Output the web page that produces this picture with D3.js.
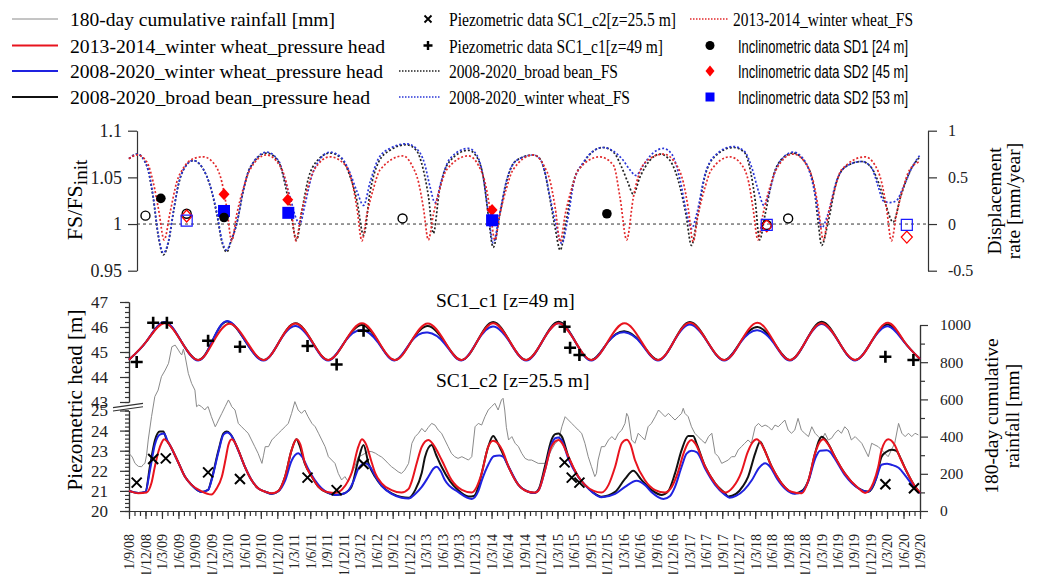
<!DOCTYPE html>
<html>
<head>
<meta charset="utf-8">
<script src="https://cdn.jsdelivr.net/npm/d3@7"></script>
<style>
    body { margin: 0; background: #fff; }
    svg { display: block; }
</style>
</head>
<body>
<svg id="chart" width="1057" height="574"></svg>
<script>
// x values are months counted from 1 Sep 2008

const tickLabels = ['1/9/08','1/12/08','1/3/09','1/6/09','1/9/09','1/12/09','1/3/10','1/6/10','1/9/10','1/12/10',
    '1/3/11','1/6/11','1/9/11','1/12/11','1/3/12','1/6/12','1/9/12','1/12/12','1/3/13','1/6/13','1/9/13','1/12/13',
    '1/3/14','1/6/14','1/9/14','1/12/14','1/3/15','1/6/15','1/9/15','1/12/15','1/3/16','1/6/16','1/9/16','1/12/16',
    '1/3/17','1/6/17','1/9/17','1/12/17','1/3/18','1/6/18','1/9/18','1/12/18','1/3/19','1/6/19','1/9/19','1/12/19',
    '1/3/20','1/6/20','1/9/20'];

const fsTicks = [0.95, 1, 1.05, 1.1];
const rateTicks = [-0.5, 0, 0.5, 1];
const c1Ticks = [43, 44, 45, 46, 47];
const c2Ticks = [20, 21, 22, 23, 24, 25];
const rainTicks = [0, 200, 400, 600, 800, 1000];

// 180-day cumulative rainfall [mm]
const rainfall = [[0,310],[0.6,290],[1.1,256],[1.7,240],[2.3,238],[2.6,250],[2.9,256],[3.2,300],[3.5,382],[4.1,507],
    [4.7,615],[5.3,650],[5.9,722],[6.6,758],[7.2,794],[7.8,883],[8.4,892],[9.0,865],[9.3,850],[9.6,839],[9.9,870],
    [10.2,835],[10.8,740],[11.4,686],[12.0,650],[12.3,561],[12.7,570],[13.2,561],[13.8,543],[14.1,555],[14.4,561],
    [15.0,507],[15.7,453],[16.0,470],[16.3,489],[16.9,525],[17.5,561],[18.1,597],[18.5,575],[18.7,561],[19.3,543],
    [19.9,471],[20.5,453],[21.1,435],[21.7,418],[22.3,382],[22.9,346],[23.5,310],[24.2,256],[24.5,300],[24.8,346],
    [25.4,346],[26.0,382],[26.6,400],[27.2,418],[27.8,435],[28.4,453],[29.0,471],[29.6,525],[30.2,588],[30.8,543],
    [31.4,525],[32.0,543],[32.6,507],[33.3,471],[33.9,453],[34.5,418],[35.1,382],[35.7,346],[36.3,292],[36.9,274],
    [37.5,256],[38.1,202],[38.7,167],[39.3,185],[39.9,158],[40.5,202],[41.1,238],[41.75,292],[42.4,300],[43.0,310],
    [43.6,320],[44.2,319],[44.9,310],[45.4,300],[46.0,290],[46.6,274],[47.2,255],[47.8,238],[48.4,225],[49.0,211],
    [49.6,202],[50.2,220],[50.9,256],[51.5,364],[52.1,400],[52.7,418],[53.3,444],[53.9,425],[54.5,450],[55.1,471],
    [55.7,462],[56.3,435],[56.9,418],[57.5,382],[58.1,346],[58.7,310],[59.3,292],[59.9,283],[60.6,292],[61.2,283],
    [61.8,274],[62.4,292],[63.0,453],[63.6,471],[64.2,462],[64.8,507],[65.4,543],[66.0,561],[66.6,579],[67.2,543],
    [67.8,597],[68.1,606],[68.4,543],[68.7,450],[69.1,382],[69.7,400],[70.3,364],[70.9,346],[71.5,310],[72.1,283],
    [72.7,274],[73.3,274],[74.5,256],[75.7,256],[76.3,290],[76.9,328],[77.5,360],[78.2,382],[78.8,453],[79.4,507],
    [80.0,489],[80.6,471],[81.2,453],[81.8,435],[82.4,418],[83.0,364],[83.6,292],[84.2,238],[84.8,185],[85.1,202],
    [85.4,274],[86.0,346],[86.6,346],[87.3,382],[87.9,400],[88.5,382],[89.1,418],[89.7,435],[90.3,471],[90.6,525],
    [90.9,507],[91.5,382],[92.1,364],[92.7,418],[93.3,400],[93.9,382],[94.5,453],[95.1,471],[95.8,507],[96.4,543],
    [97.0,525],[97.6,507],[98.2,525],[98.8,507],[99.4,489],[100.0,507],[100.6,525],[100.9,552],[101.2,525],[101.8,507],
    [102.4,453],[103.0,418],[103.6,400],[104.2,382],[104.9,364],[105.5,400],[106.1,418],[106.7,310],[107.3,292],
    [107.9,256],[108.5,265],[109.1,274],[109.7,292],[110.3,292],[110.9,328],[111.5,346],[112.1,364],[112.7,382],
    [113.3,364],[114.0,453],[114.6,471],[115.2,453],[115.8,462],[116.4,453],[117.0,435],[117.6,462],[118.2,453],
    [118.8,471],[119.4,489],[120.0,435],[120.6,418],[121.2,435],[121.8,498],[122.4,435],[123.0,418],[123.7,400],
    [124.3,453],[124.9,418],[125.5,400],[126.1,382],[126.7,418],[127.3,382],[127.9,391],[128.5,418],[129.1,435],
    [129.7,418],[130.3,453],[130.9,435],[131.5,382],[132.2,400],[132.8,382],[133.4,364],[134.0,328],[134.6,292],
    [135.2,364],[135.8,355],[136.4,346],[137.0,328],[137.6,310],[138.2,292],[138.8,328],[139.4,364],[140.1,471],
    [140.7,418],[141.3,400],[141.9,418],[142.5,400],[143.1,418],[143.7,409]];

// SC1_c1 [z=49 m] pressure head [m]
const c1WW1314 = [[0,44.69],[3.2,45.43],[6.4,46.15],[9.5,45.43],[12.6,44.68],[15.4,45.43],[18.3,46.13],[21.4,45.43],
    [24.5,44.68],[27.4,45.43],[30.3,46.14],[33.3,45.43],[36.3,44.68],[39.35,45.43],[42.4,46.15],[45.4,45.43],[48.4,44.68],
    [51.4,45.43],[54.4,46.14],[57.45,45.43],[60.5,44.68],[63.4,45.43],[66.3,46.15],[69.3,45.43],[72.3,44.68],[75.25,45.43],
    [78.2,46.15],[81.2,45.43],[84.2,44.68],[87.2,45.43],[90.2,46.15],[93.25,45.43],[96.3,44.68],[99.2,45.43],[102.1,46.17],
    [105.25,45.43],[108.4,44.68],[111.4,45.43],[114.4,46.17],[117.35,45.43],[120.3,44.68],[123.2,45.43],[126.1,46.15],
    [129.15,45.43],[132.2,44.68],[135.2,45.43],[138.2,46.17],[141.1,45.43],[144,44.72]];
const c1WW0820 = [[0,44.69],[3.2,45.43],[6.4,46.2],[9.5,45.43],[12.6,44.66],[15.2,45.45],[17.9,46.24],[21.2,45.43],
    [24.5,44.66],[27.4,45.43],[30.3,46.04],[33.3,45.4],[36.3,44.66],[39.35,45.43],[42.4,45.88],[45.4,45.36],[48.4,44.66],
    [51.4,45.43],[54.4,45.78],[57.45,45.34],[60.5,44.66],[63.4,45.43],[66.3,46.02],[69.3,45.4],[72.3,44.66],[75.25,45.43],
    [78.2,46.15],[81.2,45.43],[84.2,44.66],[87.2,45.4],[90.2,45.79],[93.25,45.34],[96.3,44.66],[99.2,45.43],[102.1,46.1],
    [105.25,45.42],[108.4,44.66],[111.4,45.4],[114.4,45.87],[117.35,45.36],[120.3,44.66],[123.2,45.43],[126.1,46.12],
    [129.15,45.42],[132.2,44.66],[135.2,45.43],[138.2,46.03],[141.1,45.4],[144,44.72]];
const c1BB0820 = [[0,44.69],[3.2,45.43],[6.4,46.18],[9.5,45.43],[12.6,44.68],[15.2,45.45],[17.9,46.22],[21.2,45.43],
    [24.5,44.68],[27.4,45.43],[30.3,46.15],[33.3,45.43],[36.3,44.68],[39.35,45.43],[42.4,46.08],[45.4,45.4],[48.4,44.68],
    [51.4,45.43],[54.4,46.04],[57.45,45.4],[60.5,44.68],[63.4,45.43],[66.3,46.2],[69.3,45.43],[72.3,44.68],[75.25,45.43],
    [78.2,46.21],[81.2,45.43],[84.2,44.68],[87.2,45.4],[90.2,45.83],[93.25,45.36],[96.3,44.68],[99.2,45.43],[102.1,46.2],
    [105.25,45.43],[108.4,44.68],[111.4,45.43],[114.4,46.0],[117.35,45.4],[120.3,44.68],[123.2,45.43],[126.1,46.21],
    [129.15,45.43],[132.2,44.68],[135.2,45.43],[138.2,46.1],[141.1,45.42],[144,44.72]];

// SC1_c2 [z=25.5 m] pressure head [m]
const c2WW1314 = [[0,21.0],[1.7,20.88],[3.2,20.92],[4.1,21.4],[4.7,22.2],[5.4,23.0],[5.9,23.37],[6.4,23.57],[7.0,23.45],
    [7.6,23.2],[9.0,22.4],[10.2,21.7],[11.4,21.3],[13.2,20.98],[15.0,20.82],[15.9,21.1],[16.9,21.7],[17.6,22.6],
    [18.1,23.3],[18.7,23.57],[19.3,23.4],[19.9,23.03],[21.1,22.2],[22.3,21.54],[23.5,21.13],[24.8,20.96],[26.0,20.88],
    [27.2,21.0],[28.4,21.7],[29.6,23.03],[30.5,23.57],[31.2,23.3],[32.0,22.4],[33.3,21.7],[34.5,21.2],[36.3,20.93],
    [37.5,20.9],[38.7,21.05],[39.9,21.5],[40.5,21.87],[41.75,23.2],[42.4,23.57],[43.1,23.35],[44.2,22.4],[44.8,21.9],
    [46.0,21.38],[47.8,21.04],[49.6,20.92],[50.9,21.1],[51.5,21.5],[52.4,22.4],[53.3,23.2],[54.5,23.53],[55.4,23.3],
    [56.9,22.55],[58.7,21.55],[60.6,21.05],[62.4,20.92],[63.3,21.2],[64.2,21.87],[65.4,23.2],[66.3,23.5],[67.2,23.35],
    [68.0,23.0],[69.1,22.2],[70.9,21.3],[72.7,20.96],[73.8,20.92],[74.5,21.0],[75.7,22.0],[76.9,23.2],[78.2,23.53],
    [78.9,23.35],[80.0,22.7],[81.8,21.7],[83.0,21.3],[84.6,21.0],[86.0,20.92],[87.3,21.3],[88.5,22.2],[89.7,23.37],
    [90.6,23.55],[91.3,23.3],[92.1,22.54],[93.9,21.54],[95.8,21.04],[97.6,20.92],[98.8,21.2],[99.9,21.9],[101.0,22.9],
    [101.8,23.4],[102.4,23.53],[103.1,23.35],[104.9,22.2],[106.7,21.38],[108.5,20.92],[110.0,21.2],[111.5,21.95],
    [112.6,22.9],[113.4,23.37],[114.3,23.57],[115.1,23.35],[117.0,22.2],[118.8,21.38],[120.6,20.96],[122.5,20.88],
    [123.7,21.54],[124.9,22.87],[125.8,23.45],[126.4,23.57],[127.2,23.35],[128.5,22.7],[130.3,21.87],[132.8,21.13],
    [134.0,20.9],[135.5,21.4],[136.4,22.2],[137.0,23.03],[138.2,23.57],[139.4,23.28],[140.3,22.7],[141.5,22.0],
    [143,21.25],[144,20.9]];
const c2WW0820 = [[0,21.0],[1.7,20.9],[3.0,20.95],[3.8,22.0],[4.7,23.3],[5.6,23.8],[6.4,23.86],[7.0,23.5],[7.5,23.25],
    [9.0,22.4],[10.2,21.7],[11.4,21.3],[13.2,20.95],[14.4,21.05],[15.0,21.5],[16.3,22.95],[17.2,23.8],[17.9,23.9],
    [18.5,23.8],[19.9,23.0],[21.1,22.2],[22.3,21.54],[23.5,21.13],[24.8,20.96],[26.0,20.86],[27.2,20.98],[28.4,21.5],
    [29.6,22.5],[30.8,22.87],[31.5,22.7],[32.6,22.1],[33.8,21.55],[35.0,21.15],[36.3,20.9],[37.5,20.8],[38.7,20.83],
    [39.9,21.0],[40.9,21.5],[41.75,22.1],[43.0,22.37],[43.9,22.2],[44.8,21.75],[46.0,21.25],[47.8,20.85],[49.6,20.66],
    [50.9,20.62],[52.1,20.85],[53.3,21.2],[54.5,21.7],[55.4,22.1],[56.0,22.2],[56.7,22.0],[57.5,21.54],[59.9,20.95],
    [62.4,20.6],[63.6,21.0],[64.2,21.5],[65.4,22.3],[66.4,22.72],[67.4,22.76],[68.1,22.7],[69.1,22.2],[70.9,21.3],
    [72.7,20.96],[73.8,20.9],[74.6,21.05],[75.7,22.0],[76.9,23.3],[77.6,23.62],[78.2,23.66],[78.8,23.5],[80.0,22.6],
    [81.8,21.7],[83.0,21.3],[84.5,20.9],[86.0,20.68],[88.5,20.85],[90.3,21.2],[92.4,21.5],[93.9,21.3],[95.1,20.95],
    [97.3,20.6],[98.5,20.75],[99.4,21.2],[100.6,22.2],[101.5,22.85],[102.4,23.0],[103.4,22.92],[104.9,22.1],
    [106.7,21.3],[108.5,20.8],[109.3,20.66],[110.5,20.75],[112.0,21.05],[113.4,21.54],[114.7,22.15],[115.8,22.37],
    [116.7,22.2],[118.0,21.6],[119.5,21.1],[121.2,20.86],[122.5,20.95],[123.7,21.5],[124.9,22.6],[125.8,23.0],
    [127.0,23.02],[127.6,22.95],[128.5,22.6],[130.3,21.8],[132.8,21.13],[134.6,20.96],[136.0,21.6],[137.0,22.3],
    [138.0,22.35],[138.8,22.3],[140.1,22.15],[141.5,21.7],[143,21.15],[144,20.88]];
const c2BB0820 = [[0,21.0],[1.7,20.9],[3.0,20.95],[3.8,22.2],[4.7,23.5],[5.6,23.95],[6.25,23.95],[6.9,23.5],[7.5,23.25],
    [9.0,22.4],[10.2,21.7],[11.4,21.3],[13.2,20.95],[14.4,21.05],[15.0,21.54],[16.3,23.03],[17.2,23.86],[17.8,23.95],
    [18.4,23.85],[19.9,23.03],[21.1,22.2],[22.3,21.54],[23.5,21.13],[24.8,20.96],[26.0,20.86],[27.2,21.0],[28.4,21.7],
    [29.6,23.03],[30.5,23.57],[31.0,23.3],[32.0,22.37],[33.3,21.7],[34.5,21.2],[36.3,20.9],[37.5,20.8],[38.7,20.83],
    [39.9,21.0],[40.5,21.2],[41.75,22.54],[42.7,23.28],[43.6,22.37],[44.8,21.7],[46.0,21.25],[47.8,20.88],[49.6,20.7],
    [50.9,20.66],[52.1,21.04],[53.3,21.9],[53.9,22.7],[55.1,23.28],[55.9,22.8],[56.9,22.2],[58.4,21.5],[59.9,21.04],
    [61.8,20.72],[62.8,20.75],[63.6,21.2],[64.2,21.87],[65.4,23.2],[66.3,23.73],[67.0,23.45],[67.8,23.0],[69.1,22.2],
    [70.9,21.3],[72.7,20.96],[73.8,20.9],[74.6,21.1],[75.7,22.2],[76.9,23.53],[77.6,23.82],[78.2,23.86],[78.8,23.7],
    [80.0,22.7],[81.8,21.7],[83.0,21.3],[84.5,20.92],[86.0,20.71],[88.5,20.95],[90.3,21.6],[91.8,22.0],[93.3,21.55],
    [95.1,21.05],[97.0,20.8],[98.2,21.0],[99.4,21.87],[100.6,23.03],[101.8,23.73],[102.7,23.73],[103.4,23.3],
    [104.9,22.2],[106.7,21.38],[108.5,20.88],[109.1,20.72],[110.5,20.85],[111.8,21.25],[112.7,21.7],[114.0,22.87],
    [114.9,23.45],[115.6,23.1],[117.0,22.2],[118.8,21.38],[121.2,20.88],[122.5,21.0],[123.7,21.54],[124.9,22.87],
    [125.6,23.5],[126.1,23.7],[126.8,23.55],[127.5,23.25],[128.5,22.7],[130.3,21.87],[132.8,21.13],[134.6,20.96],
    [136.0,21.6],[137.0,22.7],[137.9,22.95],[138.8,23.05],[139.7,23.0],[140.5,22.6],[141.5,22.0],[143,21.25],[144,20.9]];

// FS / FS_init
const fsWW1314 = [[0,1.070],[1.5,1.074],[3.2,1.067],[4.4,1.045],[5.4,1.015],[6.4,0.983],[7.5,1.013],[8.7,1.045],[9.9,1.06],
    [11.7,1.07],[13.5,1.072],[15.7,1.063],[16.9,1.045],[17.8,1.017],[18.7,0.982],[19.6,1.01],[20.8,1.038],[22,1.058],
    [25,1.074],[27.4,1.063],[28.6,1.045],[29.5,1.017],[30.4,0.982],[31.3,1.01],[32.5,1.038],[33.7,1.058],[36.6,1.072],
    [39.4,1.063],[40.6,1.045],[41.5,1.017],[42.4,0.982],[43.3,1.01],[44.5,1.038],[45.7,1.058],[49.9,1.073],[51.5,1.063],
    [52.7,1.045],[53.6,1.017],[54.5,0.983],[55.4,1.01],[56.6,1.038],[57.8,1.058],[61.8,1.073],[63.6,1.063],[64.8,1.045],
    [65.7,1.017],[66.6,0.983],[67.5,1.01],[68.7,1.038],[69.9,1.058],[73.6,1.074],[75.5,1.063],[76.7,1.045],[77.6,1.017],
    [78.5,0.981],[79.4,1.01],[80.6,1.038],[81.8,1.058],[85.7,1.072],[88.2,1.063],[89.4,1.028],[90.6,0.983],[91.8,1.028],
    [93,1.056],[94.8,1.07],[97.3,1.075],[99.7,1.063],[100.9,1.045],[101.8,1.017],[102.7,0.981],[103.6,1.01],[104.8,1.038],
    [106,1.058],[109.4,1.072],[111.6,1.063],[112.8,1.045],[113.6,1.017],[114.5,0.983],[115.4,1.01],[116.6,1.038],
    [117.8,1.058],[120.9,1.075],[123.4,1.063],[124.6,1.045],[125.5,1.017],[126.4,0.983],[127.3,1.01],[128.5,1.038],
    [129.7,1.058],[134,1.072],[135.8,1.063],[137,1.045],[137.9,1.017],[138.8,0.982],[139.7,1.01],[140.9,1.038],
    [142.1,1.058],[144,1.067]];
const fsWW0820 = [[0,1.070],[1.5,1.075],[3.2,1.063],[4.4,1.03],[5.3,0.99],[6.25,0.969],[7.2,0.982],[8.1,1.014],[9,1.043],
    [9.9,1.058],[11.7,1.068],[14.1,1.052],[16,1.012],[16.9,0.983],[17.8,0.972],[18.6,0.983],[19.6,1.0],[20.8,1.036],
    [22,1.06],[25.1,1.077],[27.3,1.067],[28.5,1.045],[29.5,1.025],[30.3,1.008],[31.1,1.0],[32,1.02],[33.2,1.05],
    [34.6,1.068],[36.6,1.077],[38.7,1.071],[40,1.058],[41.5,1.035],[42.7,1.02],[43.9,1.045],[45.4,1.07],[47.5,1.081],
    [50.5,1.086],[52.3,1.081],[53.8,1.065],[54.8,1.04],[55.7,1.023],[56.8,1.045],[58.4,1.07],[61.8,1.081],[63.3,1.074],
    [64.5,1.05],[65.4,1.012],[66.3,0.98],[67.5,1.012],[68.7,1.046],[70.5,1.068],[73.6,1.074],[74.8,1.07],[75.6,1.058],
    [76.6,1.03],[77.7,1.0],[78.8,0.979],[79.8,1.003],[81,1.045],[82.7,1.066],[84.5,1.078],[86.3,1.082],[88.2,1.078],
    [90,1.068],[91.2,1.058],[92.3,1.052],[93.5,1.062],[95.2,1.075],[97.3,1.081],[98.8,1.075],[100.3,1.048],[101.4,1.015],
    [102.4,0.995],[103.4,1.012],[104.8,1.052],[106.6,1.073],[110,1.083],[112,1.078],[113.4,1.06],[114.6,1.035],
    [115.6,1.02],[116.6,1.035],[117.6,1.056],[118.9,1.07],[120.9,1.077],[123.3,1.065],[124.8,1.035],[126.1,0.996],
    [127.2,1.01],[128.8,1.046],[130.6,1.062],[133.4,1.067],[135.2,1.06],[136.4,1.04],[137.3,1.025],[138.5,1.023],
    [139.7,1.025],[141,1.04],[142.5,1.06],[144,1.074]];
const fsBB0820 = [[0,1.070],[1.5,1.075],[3.2,1.063],[4.4,1.028],[5.3,0.988],[6.25,0.967],[7.2,0.981],[8.1,1.013],[9,1.042],
    [9.9,1.058],[11.7,1.068],[14.1,1.052],[16,1.01],[16.9,0.981],[17.8,0.970],[18.6,0.982],[19.6,1.0],[20.8,1.035],
    [22,1.06],[25.1,1.076],[27.3,1.066],[28.5,1.04],[29.5,1.01],[30.5,0.983],[31.5,1.015],[32.7,1.05],[34,1.066],
    [36.6,1.076],[38.7,1.07],[40,1.055],[41.5,1.025],[42.7,0.988],[43.9,1.035],[45.4,1.066],[47.5,1.079],[50.5,1.085],
    [52.3,1.079],[53.5,1.06],[54.5,1.03],[55.4,0.99],[56.5,1.035],[58.2,1.066],[61.8,1.079],[63.3,1.072],[64.5,1.05],
    [65.4,1.01],[66.3,0.975],[67.5,1.01],[68.7,1.045],[70.5,1.068],[73.6,1.074],[74.8,1.07],[75.6,1.058],[76.6,1.028],
    [77.6,0.995],[78.5,0.972],[79.5,1.0],[80.9,1.045],[82.7,1.065],[84.5,1.078],[86.3,1.082],[88.2,1.077],[89.6,1.062],
    [90.8,1.045],[91.8,1.032],[93,1.05],[94.8,1.068],[96.7,1.075],[98.5,1.068],[100.3,1.04],[101.4,1.01],[102.4,0.977],
    [103.4,1.005],[104.8,1.05],[106.6,1.072],[110,1.082],[112,1.077],[113.2,1.055],[114,1.025],[114.8,0.983],[115.8,1.01],
    [117.3,1.052],[118.9,1.07],[120.9,1.076],[123.3,1.064],[124.8,1.035],[125.5,1.0],[126.1,0.977],[127.2,1.0],
    [128.8,1.045],[130.6,1.062],[133.4,1.067],[135.2,1.06],[136.6,1.042],[137.8,1.02],[139.1,1.002],[140.5,1.03],
    [142.3,1.058],[144,1.072]];

// measured data
const piezoC1 = [[1.4,44.6],[4.4,46.17],[6.9,46.17],[14.4,45.45],[20.2,45.21],[32.5,45.24],[37.8,44.5],[42.7,45.85],
    [79.3,46.01],[80.3,45.17],[82.0,44.88],[137.7,44.81],[142.8,44.68]];
const piezoC2 = [[1.4,21.41],[4.4,22.59],[6.7,22.62],[14.4,21.92],[20.2,21.59],[32.5,21.66],[37.8,21.04],[42.7,22.34],
    [79.3,22.42],[80.6,21.66],[82.0,21.41],[137.7,21.33],[142.9,21.13]];
const sd1Filled = [[5.8,1.0275],[17.3,1.007],[87.0,1.011]];
const sd1Open = [[3.0,1.009],[10.5,1.011],[49.8,1.006],[116.1,0.999],[120.0,1.006]];
const sd45Filled = [[17.3,1.032],[28.9,1.026],[66.1,1.015]];
const sd45Open = [[10.5,1.0086],[116.1,0.998],[141.6,0.986]];
const sd53Filled = [[17.3,1.014],[29.0,1.012],[66.1,1.004]];
const sd53Open = [[10.5,1.0036],[116.1,0.999],[141.6,0.999]];

const legendHeads = ['180-day cumulative rainfall [mm]', '2013-2014_winter wheat_pressure head',
    '2008-2020_winter wheat_pressure head', '2008-2020_broad bean_pressure head'];
const legendMid = ['Piezometric data SC1_c2[z=25.5 m]', 'Piezometric data SC1_c1[z=49 m]',
    '2008-2020_broad bean_FS', '2008-2020_winter wheat_FS'];
const legendRight = ['2013-2014_winter wheat_FS', 'Inclinometric data SD1 [24 m]',
    'Inclinometric data SD2 [45 m]', 'Inclinometric data SD2 [53 m]'];


const SERIF = '"Liberation Serif", "Times New Roman", serif',
    SANS = '"Liberation Sans", Arial, sans-serif',
    RED = '#e8141e',
    BLUE = '#1f22e0',
    BLACK = '#111',
    GRAY = '#8a8a8a',
    AXIS = '#333';

const svg = d3.select('#chart')
    .attr('font-family', SERIF);

const x = d3.scaleLinear().domain([0, 144]).range([129, 920]);
const yFS = d3.scaleLinear().domain([0.95, 1.1]).range([270.7, 130.7]);
const yRate = d3.scaleLinear().domain([-0.5, 1]).range([270.7, 130.7]);
const yC1 = d3.scaleLinear().domain([43, 47]).range([402, 302]);
const yC2 = d3.scaleLinear().domain([20, 25]).range([511, 410.5]);
const yRain = d3.scaleLinear().domain([0, 1000]).range([511, 325]);

const PLUS = 'M-6,0H6M0,-6V6',
    TIMES = 'M-5,-5L5,5M-5,5L5,-5',
    DIAMOND = 'M0,-6L5.5,0L0,6L-5.5,0Z';

function plain(d) { return String(d); }

function styleAxis(g, size) {
    g.attr('font-family', SERIF).attr('font-size', size);
    g.selectAll('path, line').attr('stroke', AXIS).attr('stroke-width', 1.2);
    g.selectAll('text').attr('fill', '#222');
}

function drawLine(data, yScale, color, width, dash, curve) {
    svg.append('path')
        .datum(data)
        .attr('fill', 'none')
        .attr('stroke', color)
        .attr('stroke-width', width)
        .attr('stroke-dasharray', dash)
        .attr('stroke-linejoin', 'round')
        .attr('d', d3.line()
            .x(function(d) { return x(d[0]); })
            .y(function(d) { return yScale(d[1]); })
            .curve(curve));
}

function drawMarks(data, yScale, shape, attrs) {
    let sel = svg.append('g').selectAll('path')
        .data(data)
        .enter()
        .append('path')
        .attr('transform', function(d) { return 'translate(' + x(d[0]) + ',' + yScale(d[1]) + ')'; })
        .attr('d', shape);
    Object.keys(attrs).forEach(function(k) { sel.attr(k, attrs[k]); });
}

function circlePath(r) {
    return 'M' + r + ',0A' + r + ',' + r + ' 0 1,1 ' + (-r) + ',0A' + r + ',' + r + ' 0 1,1 ' + r + ',0Z';
}
function squarePath(h) {
    return 'M' + (-h) + ',' + (-h) + 'H' + h + 'V' + h + 'H' + (-h) + 'Z';
}

// ---------- top panel: FS ----------
svg.append('g')
    .attr('transform', 'translate(137,0)')
    .call(d3.axisLeft(yFS).tickValues(fsTicks).tickSize(9).tickPadding(6).tickSizeOuter(0).tickFormat(plain))
    .call(styleAxis, 18);

svg.append('g')
    .attr('transform', 'translate(928,0)')
    .call(d3.axisRight(yRate).tickValues(rateTicks).tickSize(9).tickPadding(11).tickSizeOuter(0).tickFormat(plain))
    .call(styleAxis, 16);

svg.append('line')
    .attr('x1', 137).attr('x2', 928)
    .attr('y1', yFS(1)).attr('y2', yFS(1))
    .attr('stroke', '#333')
    .attr('stroke-width', 1)
    .attr('stroke-dasharray', '3,3');

drawLine(fsBB0820, yFS, '#222', 1.7, '2,2', d3.curveMonotoneX);
drawLine(fsWW0820, yFS, '#2a36d8', 1.7, '2,2', d3.curveMonotoneX);
drawLine(fsWW1314, yFS, '#e2292b', 1.7, '2,2', d3.curveMonotoneX);

drawMarks(sd1Open, yFS, circlePath(4.5), { fill: 'none', stroke: '#000', 'stroke-width': 1.4 });
drawMarks(sd45Open, yFS, DIAMOND, { fill: 'none', stroke: '#f00', 'stroke-width': 1.3 });
drawMarks(sd53Open, yFS, squarePath(5.5), { fill: 'none', stroke: '#1a1aff', 'stroke-width': 1.2 });
drawMarks(sd45Filled, yFS, DIAMOND, { fill: '#f00' });
drawMarks(sd53Filled, yFS, squarePath(6), { fill: '#0000ff' });
drawMarks(sd1Filled, yFS, circlePath(4.8), { fill: '#000' });

// ---------- bottom panel: piezometric head & rainfall ----------
// upper part of the broken axis
svg.append('g')
    .attr('transform', 'translate(129,0)')
    .call(d3.axisLeft(yC1).tickValues(d3.range(43, 47.01, 0.2)).tickSize(4).tickSizeOuter(0).tickFormat(''))
    .call(styleAxis, 16);
svg.append('g')
    .attr('transform', 'translate(129,0)')
    .call(d3.axisLeft(yC1).tickValues(c1Ticks).tickSize(9).tickPadding(12).tickSizeOuter(0).tickFormat(plain))
    .call(styleAxis, 17);
// lower part
svg.append('g')
    .attr('transform', 'translate(129,0)')
    .call(d3.axisLeft(yC2).tickValues(d3.range(20, 25.01, 0.2)).tickSize(4).tickSizeOuter(0).tickFormat(''))
    .call(styleAxis, 16);
svg.append('g')
    .attr('transform', 'translate(129,0)')
    .call(d3.axisLeft(yC2).tickValues(c2Ticks).tickSize(9).tickPadding(12).tickSizeOuter(0).tickFormat(plain))
    .call(styleAxis, 17);

// axis break
const brk = svg.append('g').attr('stroke', AXIS).attr('stroke-width', 1.1);
brk.append('polygon')
    .attr('points', '113,407.6 143,403.4 143,406.8 113,411')
    .attr('fill', '#fff').attr('stroke', 'none');
brk.append('line').attr('x1', 113).attr('y1', 407.6).attr('x2', 143).attr('y2', 403.4);
brk.append('line').attr('x1', 113).attr('y1', 411).attr('x2', 143).attr('y2', 406.8);

// rainfall axis
svg.append('g')
    .attr('transform', 'translate(920,0)')
    .call(d3.axisRight(yRain).tickValues(d3.range(100, 1000, 200)).tickSize(5).tickSizeOuter(0).tickFormat(''))
    .call(styleAxis, 15);
svg.append('g')
    .attr('transform', 'translate(920,0)')
    .call(d3.axisRight(yRain).tickValues(rainTicks).tickSize(8).tickPadding(12).tickSizeOuter(0).tickFormat(plain))
    .call(styleAxis, 15.5);

// time axis
svg.append('g')
    .attr('transform', 'translate(0,511)')
    .call(d3.axisBottom(x).tickValues(d3.range(0, 145, 1)).tickSize(5).tickSizeOuter(0).tickFormat(''))
    .call(styleAxis, 14);
svg.append('g')
    .attr('transform', 'translate(0,511)')
    .call(d3.axisBottom(x).tickValues(d3.range(0, 145, 3)).tickSize(8).tickSizeOuter(0)
        .tickFormat(function(d, i) { return tickLabels[i]; }))
    .call(styleAxis, 14)
    .selectAll('.tick text')
    .attr('transform', 'rotate(-90)')
    .attr('text-anchor', 'end')
    .attr('x', -23)
    .attr('y', 0)
    .attr('dy', '0.35em');

drawLine(rainfall, yRain, GRAY, 1, null, d3.curveLinear);

drawLine(c2BB0820, yC2, BLACK, 2, null, d3.curveMonotoneX);
drawLine(c2WW0820, yC2, BLUE, 2, null, d3.curveMonotoneX);
drawLine(c2WW1314, yC2, RED, 2, null, d3.curveMonotoneX);

drawLine(c1BB0820, yC1, BLACK, 2, null, d3.curveNatural);
drawLine(c1WW0820, yC1, BLUE, 2, null, d3.curveNatural);
drawLine(c1WW1314, yC1, RED, 2, null, d3.curveNatural);

drawMarks(piezoC1, yC1, PLUS, { fill: 'none', stroke: '#000', 'stroke-width': 2.6 });
drawMarks(piezoC2, yC2, TIMES, { fill: 'none', stroke: '#000', 'stroke-width': 2 });

svg.append('text').attr('x', 436).attr('y', 307).attr('font-size', 19.5).text('SC1_c1 [z=49 m]');
svg.append('text').attr('x', 436).attr('y', 387).attr('font-size', 19.5).text('SC1_c2 [z=25.5 m]');

// ---------- axis titles ----------
let fsTitle = svg.append('text')
    .attr('transform', 'translate(82,200) rotate(-90)')
    .attr('text-anchor', 'middle')
    .attr('font-size', 22);
fsTitle.append('tspan').text('FS/FS');
fsTitle.append('tspan').attr('dy', 5).attr('font-size', 19).text('init');

svg.append('text')
    .attr('transform', 'translate(82,400) rotate(-90)')
    .attr('text-anchor', 'middle')
    .attr('font-size', 21)
    .text('Piezometric head [m]');

[['Displacement', 1001, 201], ['rate [mm/year]', 1020, 201],
 ['180-day cumulative', 998, 416], ['rainfall [mm]', 1019, 416]].forEach(function(t) {
    svg.append('text')
        .attr('transform', 'translate(' + t[1] + ',' + t[2] + ') rotate(-90)')
        .attr('text-anchor', 'middle')
        .attr('font-size', 19.5)
        .text(t[0]);
});

// ---------- legend ----------
const rowY = [19, 45.5, 71, 97];
const headWidths = [265, 315, 313, 300],
    midWidths = [227, 214, 169, 181],
    rightWidths = [180, 170, 170, 170];
const headStyles = [[GRAY, 1], [RED, 2], [BLUE, 2], [BLACK, 2]];

const legend = svg.append('g').attr('class', 'legend');

legendHeads.forEach(function(label, i) {
    legend.append('line')
        .attr('x1', 12).attr('x2', 58)
        .attr('y1', rowY[i]).attr('y2', rowY[i])
        .attr('stroke', headStyles[i][0])
        .attr('stroke-width', headStyles[i][1]);
    legend.append('text')
        .attr('x', 70).attr('y', rowY[i] + 7)
        .attr('font-size', 19.5)
        .attr('textLength', headWidths[i])
        .attr('lengthAdjust', 'spacingAndGlyphs')
        .text(label);
});

legend.append('path').attr('transform', 'translate(428,' + rowY[0] + ')')
    .attr('d', 'M-3.5,-3.5L3.5,3.5M-3.5,3.5L3.5,-3.5').attr('stroke', '#000').attr('stroke-width', 1.8);
legend.append('path').attr('transform', 'translate(428,' + rowY[1] + ')')
    .attr('d', 'M-4.5,0H4.5M0,-4.5V4.5').attr('stroke', '#000').attr('stroke-width', 2.4);
legend.append('line').attr('x1', 399).attr('x2', 440).attr('y1', rowY[2]).attr('y2', rowY[2])
    .attr('stroke', '#222').attr('stroke-width', 1.4).attr('stroke-dasharray', '1.5,1.5');
legend.append('line').attr('x1', 399).attr('x2', 440).attr('y1', rowY[3]).attr('y2', rowY[3])
    .attr('stroke', '#2a36d8').attr('stroke-width', 1.4).attr('stroke-dasharray', '1.5,1.5');

legendMid.forEach(function(label, i) {
    legend.append('text')
        .attr('x', 449).attr('y', rowY[i] + 7)
        .attr('font-size', 19.5)
        .attr('textLength', midWidths[i])
        .attr('lengthAdjust', 'spacingAndGlyphs')
        .text(label);
});

legend.append('line').attr('x1', 690).attr('x2', 728).attr('y1', rowY[0]).attr('y2', rowY[0])
    .attr('stroke', '#e2292b').attr('stroke-width', 1.4).attr('stroke-dasharray', '1.5,1.5');
legend.append('path').attr('transform', 'translate(710,' + rowY[1] + ')').attr('d', circlePath(4.5)).attr('fill', '#000');
legend.append('path').attr('transform', 'translate(710,' + rowY[2] + ')').attr('d', 'M0,-5.5L4.5,0L0,5.5L-4.5,0Z').attr('fill', '#f00');
legend.append('path').attr('transform', 'translate(710,' + rowY[3] + ')').attr('d', squarePath(4.5)).attr('fill', '#0000ff');

legendRight.forEach(function(label, i) {
    legend.append('text')
        .attr('x', i === 0 ? 733 : 738).attr('y', rowY[i] + 7)
        .attr('font-family', i === 0 ? SERIF : SANS)
        .attr('font-size', i === 0 ? 19.5 : 17.5)
        .attr('textLength', rightWidths[i])
        .attr('lengthAdjust', 'spacingAndGlyphs')
        .text(label);
});
</script>
</body>
</html>
